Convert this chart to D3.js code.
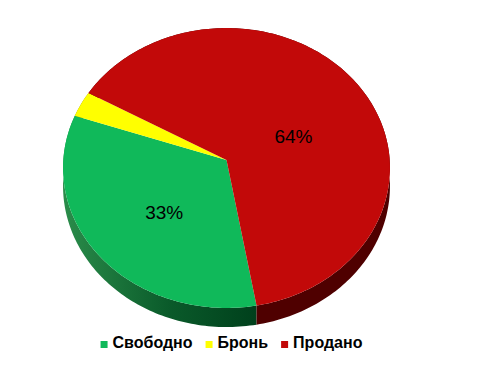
<!doctype html>
<html>
<head>
<style>
    body { margin: 0; background: #fff; }
    text { font-family: "Liberation Sans", Arial, sans-serif; }
</style>
<script src="https://d3js.org/d3.v7.min.js"></script>
</head>
<body>
<svg width="490" height="390"></svg>
<script>
    var categories = ["Свободно", "Бронь", "Продано"];
    var values = [33, 3, 64];
    var labels = ["33%", "", "64%"];
    var colors = ["#10b95a", "#ffff00", "#c20909"];
    var sideColors = ["url(#greenSide)", "#8a8a00", "#4f0000"];

    var svg = d3.select("svg");

    // 3d-ish projection of a tilted disc
    var cx = 226.5, cy = 160, sx = 163.2, sy = 139.5, persp = -0.0571, depth = 18;
    function proj(a, r, dz) {
        var u = r * Math.sin(a), v = -r * Math.cos(a);
        var s = 1 + persp * v;
        return [cx + sx * u / s, cy + (sy * v + (dz || 0)) / s];
    }

    var defs = svg.append("defs");
    var grad = defs.append("linearGradient").attr("id", "greenSide")
        .attr("gradientUnits", "userSpaceOnUse")
        .attr("x1", 64).attr("y1", 0).attr("x2", 257).attr("y2", 0);
    grad.append("stop").attr("offset", 0).attr("stop-color", "#2a8c4a");
    grad.append("stop").attr("offset", 0.55).attr("stop-color", "#0a5a2a");
    grad.append("stop").attr("offset", 1).attr("stop-color", "#00401c");

    var start = 170 * Math.PI / 180;
    var pie = d3.pie().sort(null).startAngle(start).endAngle(start + 2 * Math.PI);
    var arcs = pie(values);

    function rim(a0, a1, dz) {
        var n = Math.max(2, Math.ceil((a1 - a0) / 0.02));
        return d3.range(n + 1).map(function(i) { return proj(a0 + (a1 - a0) * i / n, 1, dz); });
    }

    // side walls
    svg.append("g").selectAll("path").data(arcs).join("path")
        .attr("fill", function(d, i) { return sideColors[i]; })
        .attr("d", function(d) {
            var top = rim(d.startAngle, d.endAngle, 0);
            var bot = rim(d.startAngle, d.endAngle, depth).reverse();
            return d3.line()(top.concat(bot)) + "Z";
        });

    // top faces
    svg.append("g").selectAll("path").data(arcs).join("path")
        .attr("fill", function(d, i) { return colors[i]; })
        .attr("d", function(d) {
            return d3.line()([proj(0, 0)].concat(rim(d.startAngle, d.endAngle, 0))) + "Z";
        });

    // percent labels
    svg.append("g").selectAll("text").data(arcs).join("text")
        .attr("text-anchor", "middle")
        .attr("font-size", "19px")
        .attr("fill", "#000")
        .attr("x", function(d) {
            var a = (d.startAngle + d.endAngle) / 2;
            return cx + 82 * Math.sin(a);
        })
        .attr("y", function(d) {
            var a = (d.startAngle + d.endAngle) / 2;
            return 172 - 62 * Math.cos(a) + 7;
        })
        .text(function(d, i) { return labels[i]; });

    // legend
    var legend = svg.append("g");
    var items = legend.selectAll("g").data(categories).join("g");
    items.append("rect").attr("width", 7).attr("height", 7).attr("y", -7)
        .attr("fill", function(d, i) { return colors[i]; });
    items.append("text").attr("x", 12).attr("y", 0)
        .attr("font-size", "16px").attr("font-weight", "bold").attr("fill", "#000")
        .text(function(d) { return d; });
    var xpos = 0;
    items.each(function() {
        var w = d3.select(this).select("text").node().getComputedTextLength();
        d3.select(this).attr("transform", "translate(" + xpos + ",0)");
        xpos += 12 + w + 13;
    });
    var total = xpos - 13;
    legend.attr("transform", "translate(" + (231.5 - total / 2) + ",348)");
</script>
</body>
</html>
